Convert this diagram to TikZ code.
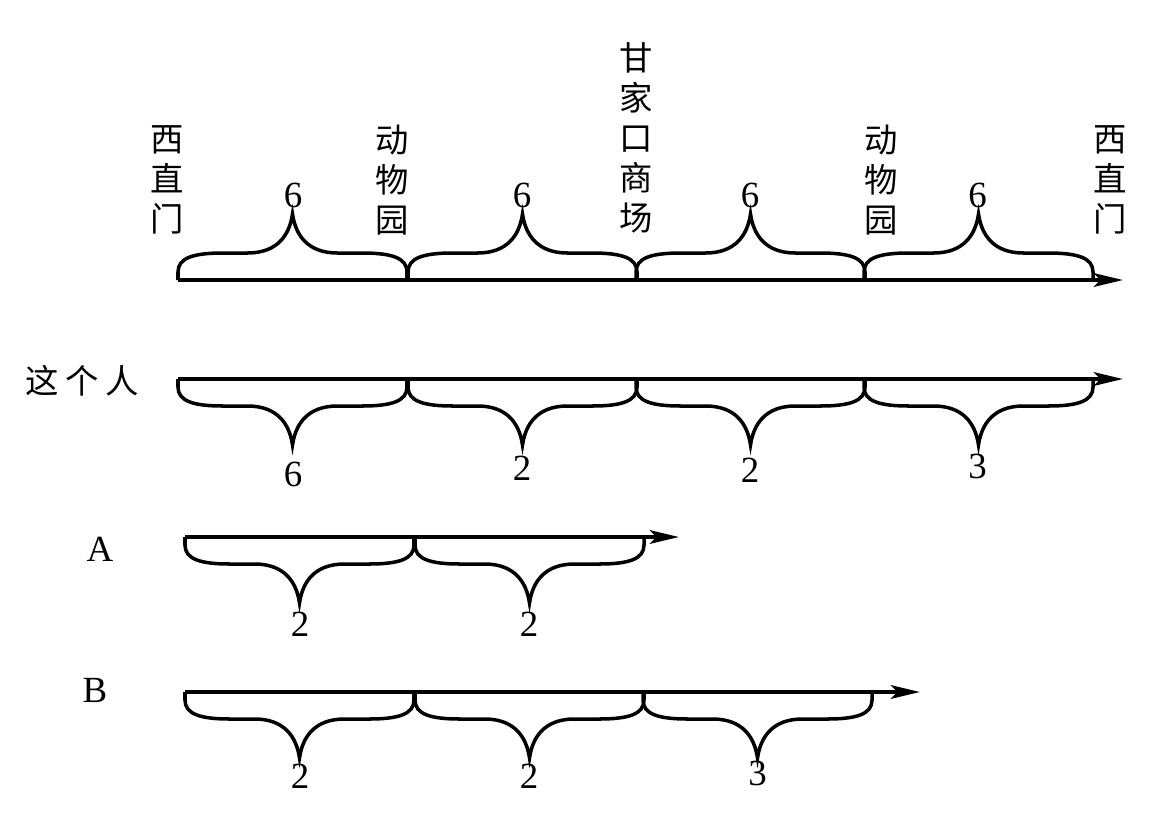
\documentclass[tikz,border=0pt]{standalone}
\usepackage{fontspec}
\setmainfont{Liberation Serif}
\newfontfamily\cjk{Noto Sans CJK SC}
\usetikzlibrary{arrows.meta,calc}

\begin{document}
\begin{tikzpicture}[x=0.02cm, y=-0.02cm,
    every node/.style={inner sep=0pt},
    zh/.style={font=\cjk\fontsize{19}{22.8}\selectfont, align=center},
    num/.style={font=\fontsize{21}{24}\selectfont},
    axis/.style={line width=2.4pt, -{Stealth[length=5.8mm, width=2.7mm, inset=1.3mm]}},
    brc/.pic={
      \draw[line width=2pt] (0,0) -- (0,-8)
        .. controls (0,-22) and (15,-27) .. (45,-27) -- (69.5,-27)
        .. controls (99.5,-27) and (111.5,-45) .. (114.5,-66)
        .. controls (117.5,-45) and (129.5,-27) .. (159.5,-27) -- (184,-27)
        .. controls (214,-27) and (229,-22) .. (229,-8) -- (229,0);
    },
    dn/.style={yscale=-1},
  ]
  \useasboundingbox (0,0) rectangle (1153,826);

  % row 1: the bus route, with its stops
  \coordinate (a0) at (178,280);
  \coordinate (a1) at (408,280);
  \coordinate (a2) at (636,280);
  \coordinate (a3) at (864,280);
  \coordinate (a4) at (1091,280);
  \coordinate (aend) at (1123,280);

  \node[zh] (xzm1) at (167,180) {西\\直\\门};
  \node[zh] (dwy1) at (392,180) {动\\物\\园};
  \node[zh] (gjk)  at (636,138) {甘\\家\\口\\商\\场};
  \node[zh] (dwy2) at (881,180) {动\\物\\园};
  \node[zh] (xzm2) at (1110,180) {西\\直\\门};

  \draw[axis] (a0) -- (aend);
  \pic (abr1) at (a0) {brc};
  \pic (abr2) at (a1) {brc};
  \pic (abr3) at (a2) {brc};
  \pic (abr4) at (a3) {brc};

  \node[num] (a01) at ($(a0)!.5!(a1)+(0,-85)$) {6};
  \node[num] (a12) at ($(a1)!.5!(a2)+(0,-85)$) {6};
  \node[num] (a23) at ($(a2)!.5!(a3)+(0,-85)$) {6};
  \node[num] (a34) at ($(a3)!.5!(a4)+(0,-85)$) {6};

  % row 2: the walker
  \coordinate (b0) at (178,379);
  \coordinate (b1) at (408,379);
  \coordinate (b2) at (636,379);
  \coordinate (b3) at (864,379);
  \coordinate (b4) at (1091,379);
  \coordinate (bend) at (1123,379);

  \node[zh] (who) at (82,381) {这\hspace{1.3mm}个\hspace{1.3mm}人};

  \draw[axis] (b0) -- (bend);
  \pic[dn] (bbr1) at (b0) {brc};
  \pic[dn] (bbr2) at (b1) {brc};
  \pic[dn] (bbr3) at (b2) {brc};
  \pic[dn] (bbr4) at (b3) {brc};

  \node[num] (b01) at ($(b0)!.5!(b1)+(0,95)$) {6};
  \node[num] (b12) at ($(b1)!.5!(b2)+(0,89)$) {2};
  \node[num] (b23) at ($(b2)!.5!(b3)+(0,91)$) {2};
  \node[num] (b34) at ($(b3)!.5!(b4)+(0,87)$) {3};

  % row 3: bus A
  \coordinate (c0) at (185,537);
  \coordinate (c1) at (415,537);
  \coordinate (c2) at (643,537);
  \coordinate (cend) at (679,537);

  \node[num] (busa) at (100,549) {A};

  \draw[axis] (c0) -- (cend);
  \pic[dn] (cbr1) at (c0) {brc};
  \pic[dn] (cbr2) at (c1) {brc};

  \node[num] (c01) at ($(c0)!.5!(c1)+(0,87)$) {2};
  \node[num] (c12) at ($(c1)!.5!(c2)+(0,87)$) {2};

  % row 4: bus B
  \coordinate (d0) at (185,692);
  \coordinate (d1) at (415,692);
  \coordinate (d2) at (643,692);
  \coordinate (d3) at (872,692);
  \coordinate (dend) at (920,692);

  \node[num] (busb) at (95,690) {B};

  \draw[axis] (d0) -- (dend);
  \pic[dn] (dbr1) at (d0) {brc};
  \pic[dn] (dbr2) at (d1) {brc};
  \pic[dn] (dbr3) at (d2) {brc};

  \node[num] (d01) at ($(d0)!.5!(d1)+(0,84)$) {2};
  \node[num] (d12) at ($(d1)!.5!(d2)+(0,84)$) {2};
  \node[num] (d23) at ($(d2)!.5!(d3)+(0,81)$) {3};
\end{tikzpicture}
\end{document}
